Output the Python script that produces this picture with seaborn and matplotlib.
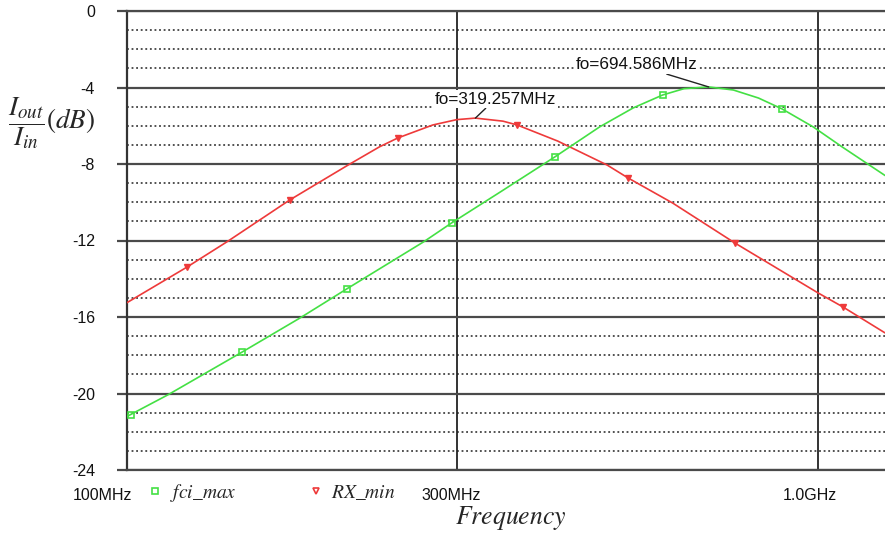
import matplotlib
matplotlib.use("Agg")
import matplotlib.pyplot as plt
import matplotlib.transforms as mtrans
from matplotlib.ticker import FixedLocator, NullFormatter, MultipleLocator
from matplotlib.lines import Line2D
import seaborn as sns
import pandas as pd

# ---- data ----
green_f = [100, 114.6, 146.8, 178, 208, 268.7, 295, 347, 416, 483, 540, 596,
           640, 694.586, 754, 820, 887, 984, 1084, 1250]
green_db = [-21.2, -20.07, -17.83, -16.05, -14.53, -12.07, -11.08, -9.46, -7.63,
            -6.06, -5.07, -4.39, -4.06, -3.97, -4.13, -4.55, -5.12, -6.06, -7.11,
            -8.6]
green_mk_f = [101.5, 146.8, 208, 295, 416, 596, 887]
green_mk_db = [-21.1, -17.83, -14.53, -11.08, -7.63, -4.39, -5.12]

red_f = [100, 122, 139.5, 172, 209, 232, 246.5, 277, 300, 319.257, 350, 367,
         420, 495, 531, 616, 758, 1000, 1086, 1250]
red_db = [-15.25, -13.4, -12.07, -9.88, -8.05, -7.1, -6.64, -5.96, -5.68, -5.6,
          -5.76, -5.96, -6.8, -8.05, -8.73, -10.04, -12.13, -14.74, -15.47,
          -16.83]
red_mk_f = [122, 172, 246.5, 367, 531, 758, 1086]
red_mk_db = [-13.4, -9.88, -6.64, -5.96, -8.73, -12.13, -15.47]

series_names = [r"$fci\_max$", r"$RX\_min$"]
xtick_vals = [100, 300, 1000]
xtick_labels = ["100MHz", "300MHz", "1.0GHz"]
ytick_vals = [0, -4, -8, -12, -16, -20, -24]
peak_labels = ["fo=319.257MHz", "fo=694.586MHz"]
peak_f = [319.257, 694.586]
peak_db = [-5.6, -3.97]

GREEN = "#44e044"
RED = "#ee3a3a"

sns.set_theme(style="white")
plt.rcParams["font.family"] = ["Liberation Sans", "DejaVu Sans"]
plt.rcParams["mathtext.fontset"] = "stix"
plt.rcParams["axes.unicode_minus"] = False

fig = plt.figure(figsize=(8.85, 5.33), dpi=100)
ax = fig.add_axes([127 / 885, 1 - 470 / 533, 1 - 127 / 885, (470 - 11) / 533])

df_g = pd.DataFrame({"f": green_f, "db": green_db})
df_r = pd.DataFrame({"f": red_f, "db": red_db})
sns.lineplot(data=df_r, x="f", y="db", ax=ax, color=RED, lw=1.2, zorder=5)
sns.lineplot(data=df_g, x="f", y="db", ax=ax, color=GREEN, lw=1.2, zorder=5)
ax.plot(green_mk_f, green_mk_db, ls="none", marker="s", ms=5, mfc="none",
        mec=GREEN, mew=1.2, zorder=6)
ax.plot(red_mk_f, red_mk_db, ls="none", marker="v", ms=5, mfc=RED,
        mec=RED, mew=1.0, zorder=6)

ax.set_xscale("log")
ax.set_xlim(100, 1250)
ax.set_ylim(-24, 0)

ax.xaxis.set_major_locator(FixedLocator(xtick_vals))
ax.xaxis.set_minor_locator(FixedLocator([]))
ax.set_xticklabels(xtick_labels)
ax.xaxis.set_minor_formatter(NullFormatter())
ax.yaxis.set_major_locator(FixedLocator(ytick_vals))
ax.yaxis.set_minor_locator(MultipleLocator(1))

ax.yaxis.grid(True, which="major", color="#4a4a4a", lw=1.6, ls="-")
ax.yaxis.grid(True, which="minor", color="#222222", lw=1.1, ls=(0, (1.2, 1.8)))
ax.xaxis.grid(True, which="major", color="#111111", lw=1.2, ls="-")
ax.set_axisbelow(True)

ax.spines["right"].set_visible(False)
ax.spines["left"].set_color("#333333")
ax.spines["left"].set_linewidth(1.6)
for s in ["top", "bottom"]:
    ax.spines[s].set_color("#4a4a4a")
    ax.spines[s].set_linewidth(1.6)

ax.tick_params(axis="y", which="major", left=True, length=7, width=1.6,
               color="#4a4a4a", direction="out", pad=16, labelsize=11.5,
               labelcolor="#111111")
ax.tick_params(axis="y", which="minor", left=False, length=0)
ax.tick_params(axis="x", which="both", bottom=False, length=0, pad=13,
               labelsize=11.5, labelcolor="#111111")
for lbl, dx in zip(ax.get_xticklabels(), [-25, -6, -8]):
    lbl.set_transform(lbl.get_transform() +
                      mtrans.ScaledTranslation(dx / 100, 0, fig.dpi_scale_trans))

ax.set_xlabel("")
ax.set_ylabel("")
fig.text(511 / 885, 1 - 518 / 533, r"$Frequency$", ha="center", va="center",
         fontsize=18.5)
fig.text(8 / 885, 1 - 123 / 533, r"$\dfrac{I_{out}}{I_{in}}(dB)$", ha="left",
         va="center", fontsize=19.5)

# peak annotations
offsets = [(20, 19), (-72, 22)]
for lab, pf, pdb, (ox, oy) in zip(peak_labels, peak_f, peak_db, offsets):
    ax.annotate(lab, xy=(pf, pdb), xytext=(ox, oy), textcoords="offset pixels",
                ha="center", va="center", fontsize=12.3, color="#111111",
                bbox=dict(boxstyle="square,pad=0.1", fc="white", ec="none"),
                arrowprops=dict(arrowstyle="-", color="#222222", lw=1.0,
                                shrinkA=0, shrinkB=0), zorder=7)

handles = [
    Line2D([], [], ls="none", marker="s", ms=5, mfc="none", mec=GREEN, mew=1.2),
    Line2D([], [], ls="none", marker="v", ms=5, mfc="none", mec=RED, mew=1.2),
]
fig.legend(handles, series_names, loc="center left",
           bbox_to_anchor=(148 / 885, 1 - 493 / 533), ncol=2, frameon=False,
           fontsize=14, handlelength=0.7, handletextpad=0.45, columnspacing=3.7,
           borderaxespad=0, borderpad=0)

fig.savefig("out.png", dpi=100, facecolor="white")
